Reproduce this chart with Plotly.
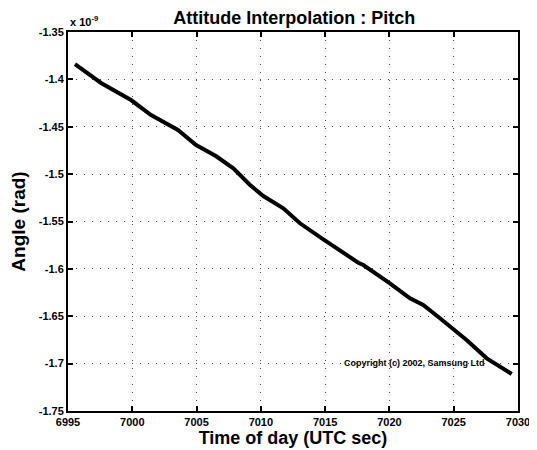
import plotly.graph_objects as go

time_s = [6995.54, 6997.57, 6999.9, 7001.46, 7003.55, 7004.96, 7006.5, 7007.86,
          7009.16, 7010.19, 7011.75, 7013.04, 7014.86, 7016.41, 7017.58, 7017.97,
          7020.04, 7021.6, 7022.63, 7023.93, 7026.0, 7027.57, 7029.51]
angle = [-1.3838, -1.4038, -1.4218, -1.4376, -1.4534, -1.4693, -1.4809, -1.4939,
         -1.5115, -1.5231, -1.5361, -1.5519, -1.5688, -1.5836, -1.5935, -1.5959,
         -1.6152, -1.6311, -1.6381, -1.6521, -1.675, -1.6944, -1.711]

y_ticks = [-1.35, -1.4, -1.45, -1.5, -1.55, -1.6, -1.65, -1.7, -1.75]
y_labels = ["-1.35", "-1.4", "-1.45", "-1.5", "-1.55", "-1.6", "-1.65", "-1.7", "-1.75"]
x_ticks = [6995, 7000, 7005, 7010, 7015, 7020, 7025, 7030]
x_labels = ["6995", "7000", "7005", "7010", "7015", "7020", "7025", "7030"]

FONT = "Liberation Sans, Arial, sans-serif"

fig = go.Figure()
fig.add_trace(go.Scatter(x=time_s, y=angle, mode="lines",
                         line=dict(color="black", width=4), showlegend=False))

# page body has an 8px margin, so the figure is sized to fit the 537x450 window
fig.update_layout(
    template="none",
    width=529, height=442,
    margin=dict(l=60, r=19, t=24, b=39, autoexpand=False),
    paper_bgcolor="white", plot_bgcolor="white",
    font=dict(family=FONT, color="black"),
    title=dict(text="<b>Attitude Interpolation : Pitch</b>", x=0.541, xanchor="center",
               y=0.978, yanchor="middle", font=dict(size=18, color="black")),
)
fig.update_xaxes(
    range=[6995, 7030], tickvals=x_ticks, ticktext=x_labels,
    tickfont=dict(size=11, family=FONT, weight="bold"),
    ticks="inside", ticklen=5, tickcolor="black", tickwidth=1.5,
    showline=True, linecolor="black", linewidth=2, mirror="ticks",
    showgrid=True, gridcolor="#444444", griddash="1px,7px", gridwidth=1.2,
    zeroline=False, automargin=False,
    title=dict(text="<b>Time of day (UTC sec)</b>", font=dict(size=18), standoff=3),
)
fig.update_yaxes(
    range=[-1.75, -1.35], tickvals=y_ticks, ticktext=y_labels,
    tickfont=dict(size=11, family=FONT, weight="bold"),
    ticks="inside", ticklen=5, tickcolor="black", tickwidth=1.5,
    showline=True, linecolor="black", linewidth=2, mirror="ticks",
    showgrid=True, gridcolor="#444444", griddash="1px,7px", gridwidth=1.2,
    zeroline=False, automargin=False,
    title=dict(text="<b>Angle (rad)</b>", font=dict(size=19), standoff=8),
)
fig.add_annotation(xref="paper", yref="paper", x=0.0, y=1.0, xanchor="left",
                   yanchor="bottom", yshift=2, xshift=0,
                   text="<b>x 10<sup>-9</sup></b>", showarrow=False,
                   font=dict(size=11, color="black"))
fig.add_annotation(xref="x", yref="y", x=7027.6, y=-1.699, xanchor="right",
                   yanchor="middle", text="<b>Copyright (c) 2002, Samsung Ltd</b>",
                   showarrow=False, font=dict(size=9, color="black"))

fig.write_html("out.html")
